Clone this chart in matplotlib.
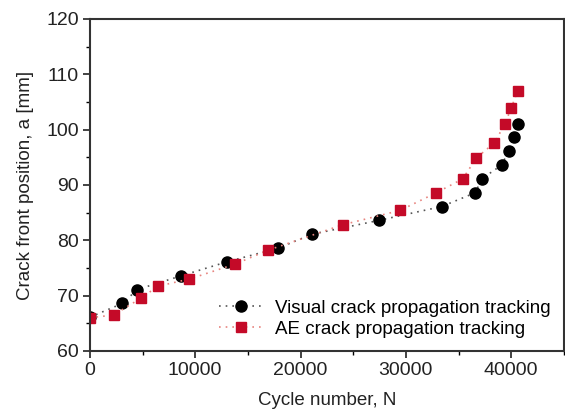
import matplotlib.pyplot as plt
from matplotlib.ticker import MultipleLocator

plt.rcParams['font.family'] = ['Liberation Sans', 'DejaVu Sans']

# Visual crack propagation tracking
visual_n = [0, 3100, 4500, 8700, 13000, 17900, 21100, 27450, 33400, 36600,
            37200, 39100, 39750, 40300, 40600]
visual_a = [66.1, 68.6, 71.1, 73.6, 76.1, 78.6, 81.1, 83.6, 86.1, 88.6,
            91.1, 93.6, 96.1, 98.6, 101.1]

# AE crack propagation tracking
ae_n = [0, 2250, 4900, 6450, 9450, 13800, 16900, 24000, 29450, 32900,
        35400, 36700, 38400, 39400, 40000, 40600]
ae_a = [66.0, 66.5, 69.6, 71.7, 73.0, 75.7, 78.2, 82.8, 85.4, 88.6,
        91.1, 94.9, 97.6, 101.0, 103.9, 106.9]

fig = plt.figure(figsize=(5.65, 4.11), dpi=100)
ax = fig.add_axes([0.159, 0.146, 0.839, 0.808])

ax.plot(visual_n, visual_a, ls=(0, (1, 3)), color="#555555", lw=1.2,
        marker="o", ms=8, mfc="black", mec="black",
        label="Visual crack propagation tracking")
ax.plot(ae_n, ae_a, ls=(0, (1, 3)), color="#e8847f", lw=1.2,
        marker="s", ms=7, mfc="#c40a28", mec="#c40a28",
        label="AE crack propagation tracking")

ax.set_xlim(0, 45000)
ax.set_ylim(60, 120)
ax.xaxis.set_major_locator(MultipleLocator(10000))
ax.xaxis.set_minor_locator(MultipleLocator(5000))
ax.yaxis.set_major_locator(MultipleLocator(10))
ax.yaxis.set_minor_locator(MultipleLocator(5))
ax.tick_params(which="major", direction="out", length=5, width=1.2,
               labelsize=14, colors="#222222", pad=3)
ax.tick_params(which="minor", direction="out", length=3, width=1.0)
ax.tick_params(top=False, right=False, which="both")
for s in ax.spines.values():
    s.set_linewidth(1.5)
    s.set_color("#333333")

ax.set_xlabel("Cycle number, N", fontsize=13.5, color="#222222", labelpad=9)
ax.set_ylabel("Crack front position, a [mm]", fontsize=13.5,
              color="#222222", labelpad=9)

ax.legend(loc="lower right", frameon=False, fontsize=13.5,
          handlelength=2.4, handletextpad=0.6, labelspacing=0.2,
          borderaxespad=0.3, markerscale=1.0)

fig.savefig("out.png", dpi=100)
